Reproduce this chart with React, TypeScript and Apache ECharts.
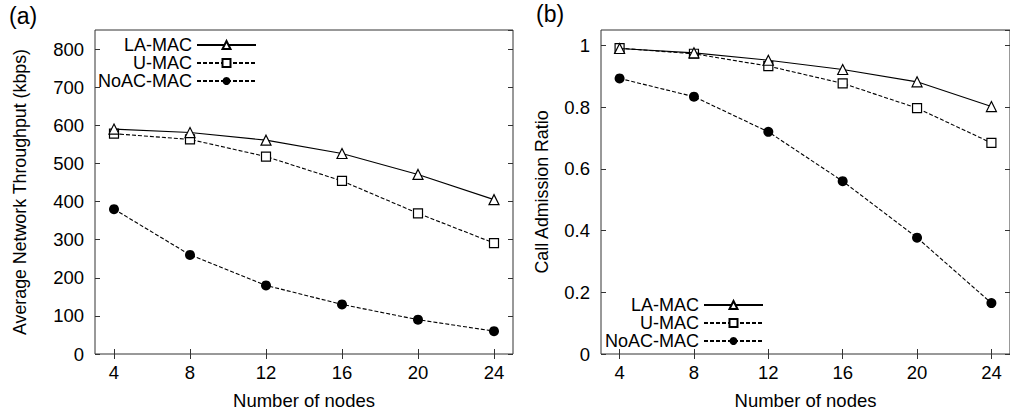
import React, { useEffect, useRef } from "react";
import * as echarts from "echarts";

const nodes = [4, 8, 12, 16, 20, 24];
const seriesNames = ["LA-MAC", "U-MAC", "NoAC-MAC"];

const throughputLA = [590, 581, 561, 526, 471, 405];
const throughputU = [578, 563, 518, 454, 369, 291];
const throughputNoAC = [380, 260, 180, 130, 90, 60];

const ratioLA = [0.99, 0.976, 0.952, 0.922, 0.882, 0.802];
const ratioU = [0.991, 0.973, 0.933, 0.877, 0.797, 0.684];
const ratioNoAC = [0.893, 0.834, 0.72, 0.56, 0.377, 0.165];

const FONT = "'Liberation Sans', Arial, Helvetica, sans-serif";
const AXIS_COLOR = "#333";
const FS = 18.5;

function pairs(vals: number[]) {
  return nodes.map((n, i) => [n, vals[i]]);
}

function symbolFor(idx: number) {
  if (idx === 0) return { symbol: "triangle", symbolSize: 10, itemStyle: { color: "#fff", borderColor: "#000", borderWidth: 1.2 } };
  if (idx === 1) return { symbol: "rect", symbolSize: 9, itemStyle: { color: "#fff", borderColor: "#000", borderWidth: 1.2 } };
  return { symbol: "circle", symbolSize: 10, itemStyle: { color: "#000", borderColor: "#000", borderWidth: 0 } };
}

function makeSeries(vals: number[][], axisIdx: number) {
  return vals.map((v, i) => ({
    name: seriesNames[i],
    type: "line",
    xAxisIndex: axisIdx,
    yAxisIndex: axisIdx,
    data: pairs(v),
    ...symbolFor(i),
    showAllSymbol: true,
    lineStyle: { color: "#000", width: 1.1, type: i === 0 ? "solid" : [4, 2] },
    z: 3 - i,
  }));
}

function xAxes(gridIndex: number) {
  const base = {
    type: "value",
    gridIndex,
    min: 3,
    max: 25,
    splitLine: { show: false },
    axisLine: { show: false },
  };
  return [
    {
      ...base,
      position: "bottom",
      name: "Number of nodes",
      nameLocation: "middle",
      nameGap: 37,
      nameTextStyle: { fontFamily: FONT, fontSize: FS, color: "#000" },
      axisTick: { show: true, inside: true, length: 5, customValues: nodes, lineStyle: { color: AXIS_COLOR } },
      axisLabel: { show: true, customValues: nodes, margin: 9, fontFamily: FONT, fontSize: FS, color: "#000" },
    },
    {
      ...base,
      position: "top",
      axisTick: { show: true, inside: true, length: 5, customValues: nodes, lineStyle: { color: AXIS_COLOR } },
      axisLabel: { show: false },
    },
  ];
}

function yAxes(gridIndex: number, max: number, interval: number, name: string, nameGap: number) {
  const base = {
    type: "value",
    gridIndex,
    min: 0,
    max,
    interval,
    splitLine: { show: false },
    axisLine: { show: false },
  };
  return [
    {
      ...base,
      position: "left",
      name,
      nameLocation: "middle",
      nameGap,
      nameTextStyle: { fontFamily: FONT, fontSize: 17.8, color: "#000" },
      axisTick: { show: true, inside: true, length: 5, lineStyle: { color: AXIS_COLOR } },
      axisLabel: { show: true, margin: 11, fontFamily: FONT, fontSize: FS, color: "#000", showMaxLabel: false },
    },
    {
      ...base,
      position: "right",
      axisTick: { show: true, inside: true, length: 5, lineStyle: { color: AXIS_COLOR } },
      axisLabel: { show: false },
    },
  ];
}

function legendAt(right: number, top: number) {
  return {
    data: seriesNames,
    orient: "vertical",
    align: "right",
    right,
    top,
    padding: 0,
    itemWidth: 59,
    itemHeight: 10,
    itemGap: 0,
    selectedMode: false,
    textStyle: { fontFamily: FONT, fontSize: 18, color: "#000", lineHeight: 16 },
  };
}

export default function App() {
  const ref = useRef<HTMLDivElement>(null);
  useEffect(() => {
    if (!ref.current) return;
    const chart = echarts.init(ref.current, undefined, { renderer: "svg" });
    const option: any = {
      animation: false,
      backgroundColor: "#fff",
      grid: [
        { left: 95, top: 30, width: 418, height: 327, show: true, borderColor: AXIS_COLOR, borderWidth: 1, backgroundColor: "transparent" },
        { left: 601, top: 30, width: 418, height: 327, show: true, borderColor: AXIS_COLOR, borderWidth: 1, backgroundColor: "transparent" },
      ],
      xAxis: [...xAxes(0), ...xAxes(1)],
      yAxis: [
        ...yAxes(0, 850, 100, "Average Network Throughput (kbps)", 66),
        ...yAxes(1, 1.05, 0.2, "Call Admission Ratio", 50),
      ],
      legend: [legendAt(753, 36), legendAt(246, 296)],
      graphic: [
        { type: "text", left: 9, top: 4, style: { text: "(a)", fontFamily: FONT, fontSize: 23, fill: "#000" } },
        { type: "text", left: 536, top: 2, style: { text: "(b)", fontFamily: FONT, fontSize: 23, fill: "#000" } },
      ],
      series: [
        ...makeSeries([throughputLA, throughputU, throughputNoAC], 0).map((s) => ({ ...s, xAxisIndex: 0, yAxisIndex: 0 })),
        ...makeSeries([ratioLA, ratioU, ratioNoAC], 2).map((s) => ({ ...s, xAxisIndex: 2, yAxisIndex: 2 })),
      ],
    };
    chart.setOption(option);
    return () => chart.dispose();
  }, []);
  return (
    <div
      ref={ref}
      style={{ position: "fixed", left: 0, top: 0, width: 1010, height: 415, background: "#fff" }}
    />
  );
}
